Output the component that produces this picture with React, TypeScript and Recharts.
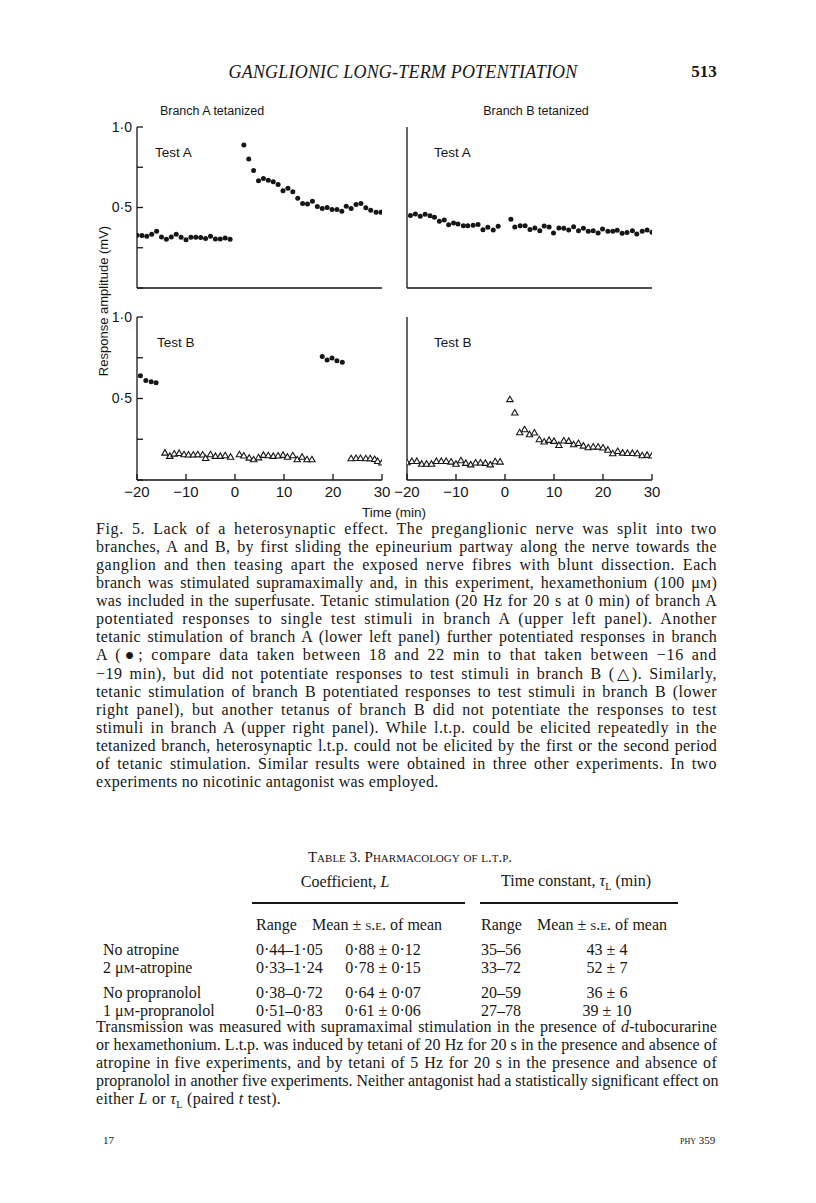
import React from 'react';
import { ScatterChart, Scatter, XAxis, YAxis } from 'recharts';

// ---------- DATA ----------
const xTicks = [-20, -10, 0, 10, 20, 30];
const yTicks = [0, 0.25, 0.5, 0.75, 1.0];

// Upper left: branch A tetanized, test A (filled dots)
const ulPreTimes = [-20, -19, -18, -17, -16, -15, -14, -13, -12, -11, -10, -9, -8, -7, -6, -5, -4, -3, -2, -1];
const ulPreValues = [0.328, 0.326, 0.322, 0.334, 0.353, 0.317, 0.303, 0.317, 0.334, 0.315, 0.299, 0.315, 0.315, 0.313, 0.307, 0.322, 0.305, 0.305, 0.311, 0.303];
const ulPostTimes = [1.8, 2.8, 3.8, 4.8, 5.8, 6.8, 7.8, 8.8, 9.8, 10.8, 11.8, 12.8, 13.8, 14.8, 15.8, 16.8, 17.8, 18.8, 19.8, 20.8, 21.8, 22.7, 23.7, 24.7, 25.7, 26.7, 27.7, 28.8, 29.8];
const ulPostValues = [0.888, 0.801, 0.730, 0.666, 0.680, 0.670, 0.660, 0.643, 0.604, 0.620, 0.598, 0.558, 0.525, 0.521, 0.539, 0.506, 0.494, 0.500, 0.488, 0.488, 0.477, 0.508, 0.494, 0.519, 0.525, 0.498, 0.483, 0.471, 0.471];

// Upper right: branch B tetanized, test A (filled dots)
const urPreTimes = [-19.3, -18.3, -17.3, -16.3, -15.3, -14.4, -13.4, -12.4, -11.5, -10.5, -9.6, -8.5, -7.6, -6.5, -5.5, -4.5, -3.5, -2.4, -1.4];
const urPreValues = [0.451, 0.460, 0.445, 0.458, 0.449, 0.439, 0.414, 0.422, 0.393, 0.404, 0.398, 0.387, 0.387, 0.389, 0.395, 0.362, 0.377, 0.360, 0.383];
const urPostTimes = [1.2, 2.0, 3.1, 4.1, 5.1, 6.1, 7.1, 8.0, 9.0, 9.9, 11.0, 12.0, 13.0, 14.0, 15.0, 16.0, 17.0, 18.0, 19.0, 19.9, 21.0, 22.0, 22.9, 23.9, 24.9, 26.0, 26.9, 28.0, 29.0, 30.0];
const urPostValues = [0.427, 0.379, 0.387, 0.387, 0.364, 0.373, 0.356, 0.385, 0.379, 0.342, 0.373, 0.371, 0.360, 0.381, 0.356, 0.371, 0.352, 0.356, 0.342, 0.366, 0.352, 0.352, 0.358, 0.340, 0.344, 0.356, 0.335, 0.352, 0.360, 0.346];

// Lower left: branch A tetanized, test B (triangles) + test A (dots)
const llDotTimes = [-19.3, -18.2, -17.1, -16.1, 17.8, 18.8, 19.8, 20.8, 21.9];
const llDotValues = [0.639, 0.611, 0.602, 0.596, 0.758, 0.736, 0.748, 0.732, 0.723];
const llTriTimes = [-14.3, -13.3, -12.4, -11.4, -10.4, -9.5, -8.5, -7.6, -6.6, -6.0, -5.0, -4.0, -3.0, -2.0, -0.9,
  0.9, 1.8, 2.9, 3.8, 4.8, 5.8, 6.8, 7.8, 8.8, 9.8, 10.7, 11.8, 12.7, 13.7, 14.7, 15.7,
  23.7, 24.7, 25.6, 26.7, 27.6, 28.5, 29.1, 30.0];
const llTriValues = [0.168, 0.148, 0.162, 0.166, 0.158, 0.156, 0.156, 0.158, 0.156, 0.135, 0.158, 0.148, 0.148, 0.152, 0.143,
  0.158, 0.150, 0.137, 0.127, 0.139, 0.154, 0.152, 0.148, 0.150, 0.154, 0.143, 0.152, 0.127, 0.143, 0.127, 0.127,
  0.133, 0.135, 0.135, 0.133, 0.133, 0.129, 0.117, 0.107];

// Lower right: branch B tetanized, test B (triangles)
const lrPreTimes = [-20, -19, -18, -17, -16, -15, -14, -13, -12, -11, -10, -9, -8, -7, -6, -5, -4, -3, -2, -1];
const lrPreValues = [0.109, 0.117, 0.117, 0.100, 0.100, 0.100, 0.117, 0.117, 0.117, 0.113, 0.100, 0.121, 0.105, 0.096, 0.107, 0.107, 0.105, 0.096, 0.115, 0.113];
const lrPostTimes = [1, 2, 3, 4, 5, 6, 7, 8, 9, 10, 11, 12, 13, 14, 15, 16, 17, 18, 19, 20, 21, 22, 23, 24, 25, 26, 27, 28, 29, 30];
const lrPostValues = [0.496, 0.414, 0.293, 0.311, 0.281, 0.291, 0.250, 0.236, 0.246, 0.240, 0.215, 0.242, 0.240, 0.219, 0.227, 0.211, 0.201, 0.205, 0.205, 0.199, 0.186, 0.164, 0.178, 0.168, 0.166, 0.166, 0.164, 0.152, 0.154, 0.150];

// Table 3
const tableRowLabels = ['No atropine', '2 μM-atropine', 'No propranolol', '1 μM-propranolol'];
const tableRangeL = ['0·44–1·05', '0·33–1·24', '0·38–0·72', '0·51–0·83'];
const tableMeanL = ['0·88 ± 0·12', '0·78 ± 0·15', '0·64 ± 0·07', '0·61 ± 0·06'];
const tableRangeT = ['35–56', '33–72', '20–59', '27–78'];
const tableMeanT = ['43 ± 4', '52 ± 7', '36 ± 6', '39 ± 10'];

const captionLines = [
  'Fig. 5. Lack of a heterosynaptic effect. The preganglionic nerve was split into two',
  'branches, A and B, by first sliding the epineurium partway along the nerve towards the',
  'ganglion and then teasing apart the exposed nerve fibres with blunt dissection. Each',
  'branch was stimulated supramaximally and, in this experiment, hexamethonium (100 μM)',
  'was included in the superfusate. Tetanic stimulation (20 Hz for 20 s at 0 min) of branch A',
  'potentiated responses to single test stimuli in branch A (upper left panel). Another',
  'tetanic stimulation of branch A (lower left panel) further potentiated responses in branch',
  'A (●; compare data taken between 18 and 22 min to that taken between −16 and',
  '−19 min), but did not potentiate responses to test stimuli in branch B (△). Similarly,',
  'tetanic stimulation of branch B potentiated responses to test stimuli in branch B (lower',
  'right panel), but another tetanus of branch B did not potentiate the responses to test',
  'stimuli in branch A (upper right panel). While l.t.p. could be elicited repeatedly in the',
  'tetanized branch, heterosynaptic l.t.p. could not be elicited by the first or the second period',
  'of tetanic stimulation. Similar results were obtained in three other experiments. In two',
  'experiments no nicotinic antagonist was employed.',
];

const noteLines = [
  'Transmission was measured with supramaximal stimulation in the presence of d-tubocurarine',
  'or hexamethonium. L.t.p. was induced by tetani of 20 Hz for 20 s in the presence and absence of',
  'atropine in five experiments, and by tetani of 5 Hz for 20 s in the presence and absence of',
  'propranolol in another five experiments. Neither antagonist had a statistically significant effect on',
  'either L or τL (paired t test).',
];

// ---------- HELPERS ----------
const SANS = '"Liberation Sans", Arial, Helvetica, sans-serif';
const SERIF = '"Liberation Serif", "Times New Roman", serif';
const INK = '#161616';
const BODY_SIZE = 16;
const TEXT_LEFT = 96;
const TEXT_WIDTH = 621;

type Pt = { x: number; y: number };
const zip = (xs: number[], ys: number[]): Pt[] => xs.map((x, i) => ({ x, y: ys[i] }));

const fmtX = (v: number) => (v < 0 ? '−' + Math.abs(v) : String(v));
const fmtY = (v: number) => (v === 0.5 ? '0·5' : v === 1 ? '1·0' : '');

const renderDot = (p: any) => <circle cx={p.cx} cy={p.cy} r={2.5} fill={INK} />;
const renderTri = (p: any) => {
  const { cx, cy } = p;
  return (
    <path d={`M${cx},${cy - 3}L${cx + 3.2},${cy + 2.5}L${cx - 3.2},${cy + 2.5}Z`} fill="#fff" stroke={INK} strokeWidth={1.1} />
  );
};

let measureCtx: CanvasRenderingContext2D | null = null;
function measureText(text: string, font: string): number {
  if (!measureCtx) measureCtx = document.createElement('canvas').getContext('2d');
  if (!measureCtx) return text.length * 7;
  measureCtx.font = font;
  return measureCtx.measureText(text).width;
}

function Mu({ s }: { s: string }) {
  const parts = s.split('μM');
  return (
    <>
      {parts.map((p, i) => (
        <React.Fragment key={i}>
          {i > 0 && (
            <>
              μ<span style={{ fontSize: '0.78em' }}>M</span>
            </>
          )}
          {p}
        </React.Fragment>
      ))}
    </>
  );
}

function JustLine({ text, y, last, children }: { text: string; y: number; last: boolean; children?: React.ReactNode }) {
  const w = measureText(text, `${BODY_SIZE}px "Liberation Serif"`);
  const n = Math.max(1, text.length - 1);
  let ls = ((TEXT_WIDTH - 2 - w) * 0.55) / n;
  ls = Math.max(-0.6, Math.min(0.7, ls));
  if (last) ls = 0.3;
  return (
    <div
      style={{
        position: 'absolute',
        left: TEXT_LEFT,
        top: y - 9,
        width: TEXT_WIDTH,
        height: 18,
        lineHeight: '18px',
        fontFamily: SERIF,
        color: INK,
        fontSize: BODY_SIZE,
        letterSpacing: ls,
        textAlign: 'justify',
        textAlignLast: last ? 'left' : 'justify',
        whiteSpace: 'nowrap',
      }}
    >
      {children ?? text}
    </div>
  );
}

function Panel(props: { left: number; top: number; w: number; h: number; dots: Pt[]; tris: Pt[]; yLabels: boolean; xLabels: boolean }) {
  const { left, top, w, h, dots, tris, yLabels, xLabels } = props;
  const ML = 50, MT = 10, MR = 15, XH = 32;
  const axisStyle = { stroke: INK, strokeWidth: 1.3 };
  return (
    <div style={{ position: 'absolute', left: left - ML, top: top - MT }}>
      <ScatterChart width={ML + w + MR} height={MT + h + XH} margin={{ top: MT, right: MR, bottom: 0, left: 0 }}>
        <XAxis
          type="number"
          dataKey="x"
          domain={[-20, 30]}
          ticks={xTicks}
          interval={0}
          allowDataOverflow
          height={XH}
          axisLine={axisStyle}
          tickLine={axisStyle}
          tickSize={-6}
          tickMargin={12}
          tick={xLabels ? { fill: INK, fontSize: 15, fontFamily: SANS } : false}
          tickFormatter={fmtX}
        />
        <YAxis
          type="number"
          dataKey="y"
          domain={[0, 1]}
          ticks={yTicks}
          interval={0}
          allowDataOverflow
          width={ML}
          axisLine={axisStyle}
          tickLine={axisStyle}
          tickSize={-6}
          tickMargin={11}
          tick={yLabels ? { fill: INK, fontSize: 14, fontFamily: SANS } : false}
          tickFormatter={fmtY}
        />
        {dots.length > 0 && <Scatter data={dots} shape={renderDot} isAnimationActive={false} />}
        {tris.length > 0 && <Scatter data={tris} shape={renderTri} isAnimationActive={false} />}
      </ScatterChart>
    </div>
  );
}

function C({ x, y, children, style }: { x: number; y: number; children: React.ReactNode; style?: React.CSSProperties }) {
  return (
    <div style={{ position: 'absolute', left: x, top: y, transform: 'translate(-50%,-50%)', whiteSpace: 'nowrap', ...style }}>
      {children}
    </div>
  );
}
function L({ x, y, children, style }: { x: number; y: number; children: React.ReactNode; style?: React.CSSProperties }) {
  return (
    <div style={{ position: 'absolute', left: x, top: y, transform: 'translateY(-50%)', whiteSpace: 'nowrap', ...style }}>
      {children}
    </div>
  );
}

export default function App() {
  const ulDots = [...zip(ulPreTimes, ulPreValues), ...zip(ulPostTimes, ulPostValues)];
  const urDots = [...zip(urPreTimes, urPreValues), ...zip(urPostTimes, urPostValues)];
  const llDots = zip(llDotTimes, llDotValues);
  const llTris = zip(llTriTimes, llTriValues);
  const lrTris = [...zip(lrPreTimes, lrPreValues), ...zip(lrPostTimes, lrPostValues)];

  const serif: React.CSSProperties = { fontFamily: SERIF, color: INK };
  const sans: React.CSSProperties = { fontFamily: SANS, color: INK };
  const capLH = 18.07;
  const capTop = 529;
  const rowYs = [950, 968, 993, 1011];
  const tf = 16;

  return (
    <div style={{ position: 'absolute', left: 0, top: 0, width: 816, height: 1203, background: '#fff', overflow: 'hidden' }}>
      {/* running head */}
      <C x={403} y={72} style={{ ...serif, fontStyle: 'italic', fontSize: 18, letterSpacing: 0.2 }}>GANGLIONIC LONG-TERM POTENTIATION</C>
      <C x={704} y={72} style={{ ...serif, fontSize: 17, fontWeight: 'bold' }}>513</C>

      {/* panel titles */}
      <C x={212} y={111} style={{ ...sans, fontSize: 12.5 }}>Branch A tetanized</C>
      <C x={536} y={111} style={{ ...sans, fontSize: 12.5 }}>Branch B tetanized</C>

      <Panel left={137} top={127} w={245} h={161} dots={ulDots} tris={[]} yLabels xLabels={false} />
      <Panel left={407} top={127} w={245} h={161} dots={urDots} tris={[]} yLabels={false} xLabels={false} />
      <Panel left={137} top={317} w={245} h={163} dots={llDots} tris={llTris} yLabels xLabels />
      <Panel left={407} top={317} w={245} h={163} dots={[]} tris={lrTris} yLabels={false} xLabels />

      <L x={155} y={152} style={{ ...sans, fontSize: 13.5 }}>Test A</L>
      <L x={434} y={152} style={{ ...sans, fontSize: 13.5 }}>Test A</L>
      <L x={157} y={342} style={{ ...sans, fontSize: 13.5 }}>Test B</L>
      <L x={434} y={342} style={{ ...sans, fontSize: 13.5 }}>Test B</L>

      <C x={103} y={301} style={{ ...sans, fontSize: 13, transform: 'translate(-50%,-50%) rotate(-90deg)' }}>Response amplitude (mV)</C>
      <C x={394} y={512} style={{ ...sans, fontSize: 13.5 }}>Time (min)</C>

      {/* caption */}
      {captionLines.map((line, i) => (
        <JustLine key={i} text={line} y={capTop + i * capLH} last={i === captionLines.length - 1}>
          <Mu s={line} />
        </JustLine>
      ))}

      {/* table */}
      <C x={410} y={857} style={{ ...serif, fontSize: 15, fontVariant: 'small-caps' }}>Table 3. Pharmacology of l.t.p.</C>
      <C x={345} y={882} style={{ ...serif, fontSize: tf }}>Coefficient, <i>L</i></C>
      <C x={576} y={882} style={{ ...serif, fontSize: tf }}>Time constant, <i>τ</i><sub style={{ fontSize: 10 }}>L</sub> (min)</C>
      <div style={{ position: 'absolute', left: 252, top: 902, width: 213, height: 1.5, background: INK }} />
      <div style={{ position: 'absolute', left: 480, top: 902, width: 198, height: 1.5, background: INK }} />
      <L x={256} y={925} style={{ ...serif, fontSize: tf }}>Range</L>
      <L x={312} y={925} style={{ ...serif, fontSize: tf }}>Mean ± <span style={{ fontVariant: 'small-caps' }}>s.e.</span> of mean</L>
      <L x={481} y={925} style={{ ...serif, fontSize: tf }}>Range</L>
      <L x={537} y={925} style={{ ...serif, fontSize: tf }}>Mean ± <span style={{ fontVariant: 'small-caps' }}>s.e.</span> of mean</L>
      {tableRowLabels.map((lab, i) => (
        <React.Fragment key={i}>
          <L x={103} y={rowYs[i]} style={{ ...serif, fontSize: tf }}><Mu s={lab} /></L>
          <L x={256} y={rowYs[i]} style={{ ...serif, fontSize: tf }}>{tableRangeL[i]}</L>
          <C x={383} y={rowYs[i]} style={{ ...serif, fontSize: tf }}>{tableMeanL[i]}</C>
          <L x={481} y={rowYs[i]} style={{ ...serif, fontSize: tf }}>{tableRangeT[i]}</L>
          <C x={607} y={rowYs[i]} style={{ ...serif, fontSize: tf }}>{tableMeanT[i]}</C>
        </React.Fragment>
      ))}

      {/* table note */}
      {noteLines.map((line, i) => (
        <JustLine key={i} text={line} y={1027 + i * 18.07} last={i === noteLines.length - 1}>
          {i === 0 ? (
            <>Transmission was measured with supramaximal stimulation in the presence of <i>d</i>-tubocurarine</>
          ) : i === 4 ? (
            <>either <i>L</i> or <i>τ</i><sub style={{ fontSize: 10, lineHeight: 0 }}>L</sub> (paired <i>t</i> test).</>
          ) : (
            line
          )}
        </JustLine>
      ))}

      {/* footer */}
      <L x={103} y={1140} style={{ ...serif, fontSize: 11 }}>17</L>
      <L x={680} y={1140} style={{ ...serif, fontSize: 11, fontVariant: 'small-caps' }}>phy 359</L>
    </div>
  );
}
